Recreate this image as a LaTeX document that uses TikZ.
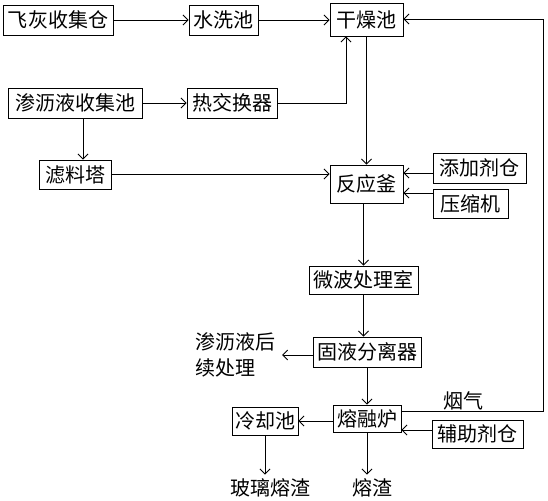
\documentclass[tikz,border=0pt]{standalone}
\usepackage{fontspec}
\newfontfamily\cjk{Noto Sans CJK SC}
\usetikzlibrary{arrows.meta}
\begin{document}
\begin{tikzpicture}[x=1pt,y=-1pt,
  every node/.style={font=\cjk\fontsize{20}{24}\selectfont, inner sep=0pt},
  box/.style={draw, line width=0.9pt},
  conn/.style={line width=0.9pt},
  arr/.style={conn, -{Straight Barb[length=5pt,width=10pt]}},
  lbl/.style={}]
\useasboundingbox (0,0) rectangle (548,500);
\node[box, minimum width=110pt, minimum height=30pt] (A) at (58,20) {飞灰收集仓};
\node[box, minimum width=69pt, minimum height=30pt] (B) at (223.5,20) {水洗池};
\node[box, minimum width=73pt, minimum height=33pt] (C) at (366.5,19.5) {干燥池};
\node[box, minimum width=134pt, minimum height=30pt] (D) at (75,103) {渗沥液收集池};
\node[box, minimum width=90pt, minimum height=30pt] (E) at (232,103) {热交换器};
\node[box, minimum width=72pt, minimum height=29pt] (F) at (75,174.5) {滤料塔};
\node[box, minimum width=73pt, minimum height=38pt] (G) at (366.5,184) {反应釜};
\node[box, minimum width=93pt, minimum height=30pt] (H) at (479.5,168) {添加剂仓};
\node[box, minimum width=75pt, minimum height=29pt] (I) at (470.5,203.5) {压缩机};
\node[box, minimum width=109pt, minimum height=28pt] (J) at (363.5,280) {微波处理室};
\node[box, minimum width=108pt, minimum height=30pt] (K) at (367,352) {固液分离器};
\node[box, minimum width=68pt, minimum height=27pt] (L) at (367,418.5) {熔融炉};
\node[box, minimum width=91pt, minimum height=28pt] (M) at (477.5,434) {辅助剂仓};
\node[box, minimum width=66pt, minimum height=28pt] (N) at (265,421) {冷却池};
\node[lbl, anchor=west, align=left, font=\cjk\fontsize{20}{26}\selectfont] (P) at (195,355) {渗沥液后\\续处理};
\node[lbl] (Q) at (270,488) {玻璃熔渣};
\node[lbl] (R) at (372,488) {熔渣};
\node[lbl] (S) at (463,401) {烟气};
\coordinate (kout) at (282,355);
\coordinate (loop) at (543,19);
% connectors
\draw[arr] (A.east) -- (A.east -| B.west);
\draw[arr] (B.east) -- (B.east -| C.west);
\draw[arr] (D.east) -- (D.east -| E.west);
\draw[arr] (E.east) -| ([xshift=-20.5pt]C.south);
\draw[arr] (C.south) -- (G.north);
\draw[arr] ([xshift=8pt]D.south) -- ([xshift=8pt]F.north);
\draw[arr] ([yshift=0.5pt]F.east) -- ([yshift=0.5pt]F.east -| G.west);
\draw[arr] ([yshift=-5pt]H.west) -- ([yshift=-5pt]H.west -| G.east);
\draw[arr] ([yshift=10.5pt]I.west) -- ([yshift=10.5pt]I.west -| G.east);
\draw[arr] (J.north |- G.south) -- (J.north);
\draw[arr] (J.south) -- (J.south |- K.north);
\draw[arr] (K.west |- kout) -- (kout);
\draw[arr] (K.south) -- (K.south |- L.north);
\draw[arr] ([yshift=7.5pt]L.east) -| (loop) -- (loop -| C.east);
\draw[arr] ([yshift=4pt]M.west) -- ([yshift=4pt]M.west -| L.east);
\draw[arr] (N.east -| L.west) -- (N.east);
\draw[arr] (N.south) -- ([yshift=4pt]N.south |- Q.north);
\draw[arr] (L.south) -- ([yshift=4pt]L.south |- R.north);
\end{tikzpicture}
\end{document}
